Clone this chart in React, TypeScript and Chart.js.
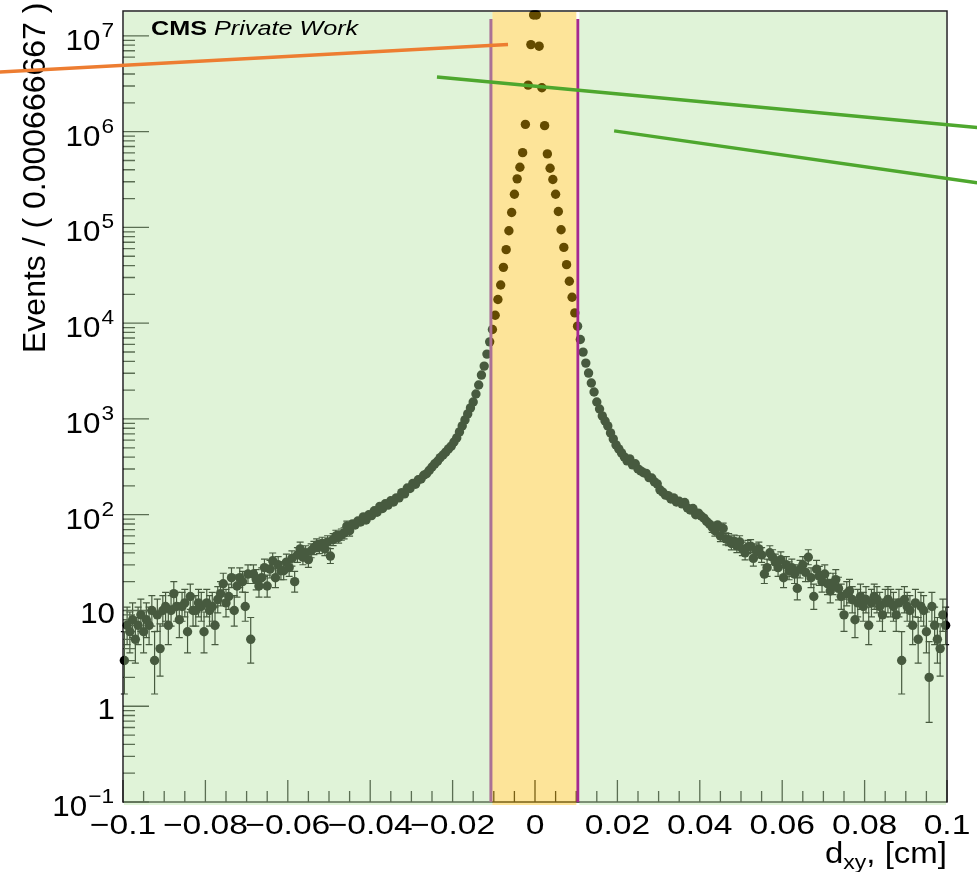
import React, { useEffect, useRef } from "react";
import { Chart, registerables } from "chart.js";

Chart.register(...registerables);

// ---------------- data ----------------
const binLow = -0.1;
const binWidth = 0.2 / 300; // 0.000666667

// counts per bin, bins 0..149 (d_xy < 0)
const countsLeft = [
  3, 7, 6, 8, 5, 7, 9, 6, 8, 7,
  10, 3, 9, 4, 10, 11, 7, 10, 15, 11,
  8, 11, 12, 6, 14, 10, 10, 12, 11, 6,
  12, 10, 11, 7, 13, 15, 19, 12, 14, 22,
  10, 18, 22, 20, 11, 24, 5, 24, 21, 18,
  22, 28, 18, 27, 33, 22, 30, 26, 26, 32,
  28, 35, 20, 38, 44, 36, 40, 34, 42, 45,
  48, 46, 50, 44, 52, 37, 55, 60, 58, 62,
  64, 76, 68, 80, 78, 86, 84, 95, 88, 100,
  98, 110, 106, 122, 116, 130, 126, 140, 136, 150,
  150, 170, 165, 190, 188, 212, 208, 232, 236, 258,
  268, 290, 315, 340, 362, 395, 420, 450, 487, 520,
  575, 634, 732, 846, 977, 1128, 1303, 1503, 1820, 2262,
  2873, 3565, 4755, 6383, 8590, 12110, 17660, 25060, 38300, 58600,
  92400, 143300, 222300, 321500, 424700, 604000, 1191000, 3064000, 8118000, 16560000,
];

// counts per bin, bins 150..299 (d_xy > 0)
const countsRight = [
  16560000, 7810000, 2873000, 1155000, 586000, 415000, 316200, 222300, 146800, 94600,
  61900, 40850, 27380, 18660, 12800, 9306, 6761, 4990, 3830, 3015,
  2371, 1911, 1503, 1271, 1075, 953, 846, 715, 619, 536,
  487, 442, 402, 365, 383, 332, 340, 301, 287, 274,
  270, 244, 242, 220, 210, 182, 172, 160, 158, 146,
  150, 136, 138, 130, 134, 118, 112, 116, 100, 104,
  97, 92, 85, 80, 74, 68, 78, 60, 72, 56,
  55, 50, 53, 47, 52, 44, 40, 46, 47, 35,
  42, 44, 38, 24, 28, 40, 36, 32, 28, 34,
  22, 30, 26, 28, 24, 17, 27, 30, 25, 36,
  22, 14, 27, 23, 20, 24, 19, 16, 19, 21,
  17, 14, 9, 15, 16, 13, 8, 12, 14, 11,
  13, 7, 12, 14, 13, 11, 9, 12, 13, 12,
  11, 9, 12, 3, 13, 11, 10, 7, 12, 5,
  11, 10, 6, 2, 11, 7, 5, 4, 9, 7,
];

const xMin = -0.1;
const xMax = 0.1;
const yMin = 0.1;
const yMax = 1.82e7;

const xTickValues = [-0.1, -0.08, -0.06, -0.04, -0.02, 0, 0.02, 0.04, 0.06, 0.08, 0.1];
const xTickLabels = ["\u22120.1", "\u22120.08", "\u22120.06", "\u22120.04", "\u22120.02", "0", "0.02", "0.04", "0.06", "0.08", "0.1"];
const xMinorStep = 0.005;

const yDecades = [-1, 0, 1, 2, 3, 4, 5, 6, 7];
const yTickBases = ["10", "1", "10", "10", "10", "10", "10", "10", "10"];
const yTickSups = ["\u22121", "", "", "2", "3", "4", "5", "6", "7"];

const cutLow = -0.0107;
const cutHigh = 0.0104;

const yTitle = "Events / ( 0.000666667 )";
const xTitleMain = "d";
const xTitleSub = "xy";
const xTitleRest = ", [cm]";
const cmsBold = "CMS";
const cmsItalic = " Private Work";

// annotation strokes (data coordinates)
const orangeArrowX = [-0.1299, -0.00655];
const orangeArrowY = [4.2e6, 8.15e6];
const greenArrow1X = [-0.0238, 0.1073];
const greenArrow1Y = [3.73e6, 1.107e6];
const greenArrow2X = [0.0192, 0.1073];
const greenArrow2Y = [1.019e6, 2.92e5];

// ---------------- drawing helpers ----------------
function drawText(ctx: CanvasRenderingContext2D, text: string, x: number, y: number, font: string, align: CanvasTextAlign, sx = 1) {
  ctx.save();
  ctx.font = font;
  ctx.textAlign = align;
  ctx.textBaseline = "alphabetic";
  ctx.translate(x, y);
  ctx.scale(sx, 1);
  ctx.fillText(text, 0, 0);
  ctx.restore();
}

function textW(ctx: CanvasRenderingContext2D, text: string, font: string) {
  ctx.save();
  ctx.font = font;
  const w = ctx.measureText(text).width;
  ctx.restore();
  return w;
}

const rootPlugin = {
  id: "rootStyle",
  beforeDatasetsDraw(chart: any) {
    const ctx: CanvasRenderingContext2D = chart.ctx;
    const xs = chart.scales.x;
    const ys = chart.scales.y;
    const area = chart.chartArea;
    const data = chart.data.datasets[0].data as { x: number; y: number }[];

    // error bars (Poisson-like)
    ctx.save();
    ctx.strokeStyle = "#000";
    ctx.lineWidth = 1.2;
    for (const p of data) {
      const n = p.y;
      const lo = Math.max(n - Math.sqrt(Math.max(n - 0.25, 0)), yMin);
      const hi = n + 1 + Math.sqrt(n + 1);
      const px = xs.getPixelForValue(p.x);
      const yl = ys.getPixelForValue(lo);
      const yh = ys.getPixelForValue(hi);
      if (Math.abs(yl - yh) < 10) continue;
      ctx.beginPath();
      ctx.moveTo(px, yh);
      ctx.lineTo(px, yl);
      ctx.moveTo(px - 3.5, yh);
      ctx.lineTo(px + 3.5, yh);
      ctx.moveTo(px - 3.5, yl);
      ctx.lineTo(px + 3.5, yl);
      ctx.stroke();
    }
    ctx.restore();

    // frame
    ctx.save();
    ctx.strokeStyle = "#222";
    ctx.lineWidth = 1.5;
    ctx.strokeRect(area.left, area.top, area.right - area.left, area.bottom - area.top);

    // x ticks (inside, pointing up)
    ctx.lineWidth = 1.3;
    ctx.beginPath();
    const nX = Math.round((xMax - xMin) / xMinorStep);
    for (let i = 0; i <= nX; i++) {
      const v = xMin + i * xMinorStep;
      const px = xs.getPixelForValue(v);
      const len = i % 4 === 0 ? 22 : 11;
      ctx.moveTo(px, area.bottom);
      ctx.lineTo(px, area.bottom - len);
    }
    // y ticks (inside, pointing right)
    for (const d of yDecades) {
      for (let m = 1; m <= 9; m++) {
        const v = m * Math.pow(10, d);
        if (v > yMax || v < yMin) continue;
        const py = ys.getPixelForValue(v);
        const len = m === 1 ? 26 : 12;
        ctx.moveTo(area.left, py);
        ctx.lineTo(area.left + len, py);
      }
    }
    ctx.stroke();
    ctx.restore();
  },
  afterDraw(chart: any) {
    const ctx: CanvasRenderingContext2D = chart.ctx;
    const xs = chart.scales.x;
    const ys = chart.scales.y;
    const area = chart.chartArea;
    const xl = xs.getPixelForValue(cutLow);
    const xh = xs.getPixelForValue(cutHigh);
    const lineTop = area.top + 8;

    // cut lines
    ctx.save();
    ctx.strokeStyle = "#a5288f";
    ctx.lineWidth = 3;
    ctx.beginPath();
    ctx.moveTo(xl, lineTop);
    ctx.lineTo(xl, area.bottom);
    ctx.moveTo(xh, lineTop);
    ctx.lineTo(xh, area.bottom);
    ctx.stroke();
    ctx.restore();

    // translucent overlays
    const oTop = area.top + 1;
    const oBot = area.bottom + 3;
    ctx.save();
    ctx.fillStyle = "rgba(178,225,158,0.4)";
    ctx.fillRect(area.left + 1, oTop, xl + 1.5 - (area.left + 1), oBot - oTop);
    ctx.fillRect(xh + 1.5, oTop, area.right - 1 - (xh + 1.5), oBot - oTop);
    ctx.fillStyle = "rgba(250,188,0,0.4)";
    ctx.fillRect(xl + 1.5, oTop, xh - 1.5 - (xl + 1.5), oBot - oTop);
    ctx.restore();

    // tick labels
    ctx.save();
    ctx.fillStyle = "#000";
    const xFont = '28px "Liberation Sans", Arial, sans-serif';
    xTickValues.forEach((v, i) => {
      drawText(ctx, xTickLabels[i], xs.getPixelForValue(v), 834, xFont, "center", 1.2);
    });
    const yFont = '29px "Liberation Sans", Arial, sans-serif';
    const supFont = '21px "Liberation Sans", Arial, sans-serif';
    const ySx = 1.08;
    const labelRight = 114;
    yDecades.forEach((d, i) => {
      const py = ys.getPixelForValue(Math.pow(10, d));
      const sup = yTickSups[i];
      if (sup) {
        const ws = textW(ctx, sup, supFont) * ySx;
        drawText(ctx, sup, labelRight, py + 1, supFont, "right", ySx);
        drawText(ctx, yTickBases[i], labelRight - ws - 1, py + 14, yFont, "right", ySx);
      } else {
        drawText(ctx, yTickBases[i], labelRight + 1, py + 13, yFont, "right", ySx);
      }
    });

    // axis titles
    const tFont = '30px "Liberation Sans", Arial, sans-serif';
    const tSubFont = '21px "Liberation Sans", Arial, sans-serif';
    const tSx = 1.1;
    const wRest = textW(ctx, xTitleRest, tFont) * tSx;
    const wSub = textW(ctx, xTitleSub, tSubFont) * tSx;
    const xRight = area.right;
    drawText(ctx, xTitleRest, xRight, 863, tFont, "right", tSx);
    drawText(ctx, xTitleSub, xRight - wRest, 869, tSubFont, "right", tSx);
    drawText(ctx, xTitleMain, xRight - wRest - wSub, 863, tFont, "right", tSx);

    ctx.save();
    ctx.translate(45, 353);
    ctx.rotate(-Math.PI / 2);
    ctx.font = '32px "Liberation Sans", Arial, sans-serif';
    ctx.textAlign = "left";
    ctx.textBaseline = "alphabetic";
    ctx.fillText(yTitle, 0, 0);
    ctx.restore();

    // CMS label
    const bFont = 'bold 21px "Liberation Sans", Arial, sans-serif';
    const iFont = 'italic 21px "Liberation Sans", Arial, sans-serif';
    const cSx = 1.2;
    const wb = textW(ctx, cmsBold, bFont) * cSx;
    drawText(ctx, cmsBold, area.left + 28, 35, bFont, "left", cSx);
    drawText(ctx, cmsItalic, area.left + 28 + wb, 35, iFont, "left", cSx);
    ctx.restore();

    // annotation strokes
    const stroke = (X: number[], Y: number[], color: string) => {
      ctx.save();
      ctx.strokeStyle = color;
      ctx.lineWidth = 3.5;
      ctx.beginPath();
      ctx.moveTo(xs.getPixelForValue(X[0]), ys.getPixelForValue(Y[0]));
      ctx.lineTo(xs.getPixelForValue(X[1]), ys.getPixelForValue(Y[1]));
      ctx.stroke();
      ctx.restore();
    };
    stroke(orangeArrowX, orangeArrowY, "#ED7D31");
    stroke(greenArrow1X, greenArrow1Y, "#4EA72E");
    stroke(greenArrow2X, greenArrow2Y, "#4EA72E");
  },
};

export default function App() {
  const ref = useRef<HTMLCanvasElement>(null);
  useEffect(() => {
    const counts = countsLeft.concat(countsRight);
    const points = counts.map((n, k) => ({ x: binLow + (k + 0.5) * binWidth, y: n }));
    const chart = new Chart(ref.current as HTMLCanvasElement, {
      type: "scatter",
      data: {
        datasets: [
          {
            data: points,
            pointRadius: 4.7,
            pointHoverRadius: 4.7,
            pointBackgroundColor: "#000",
            pointBorderWidth: 0,
            pointBorderColor: "#000",
            clip: false as any,
          },
        ],
      },
      options: {
        animation: false,
        responsive: false,
        devicePixelRatio: 1,
        events: [],
        layout: { padding: { left: 123, top: 11, right: 30, bottom: 70 } },
        plugins: { legend: { display: false }, tooltip: { enabled: false } },
        scales: {
          x: { type: "linear", min: xMin, max: xMax, display: false },
          y: { type: "logarithmic", min: yMin, max: yMax, display: false },
        },
      },
      plugins: [rootPlugin as any],
    });
    return () => chart.destroy();
  }, []);
  return (
    <div style={{ position: "fixed", left: 0, top: 0, width: 977, height: 872, background: "#fff" }}>
      <canvas ref={ref} width={977} height={872} style={{ width: 977, height: 872, display: "block" }} />
    </div>
  );
}
